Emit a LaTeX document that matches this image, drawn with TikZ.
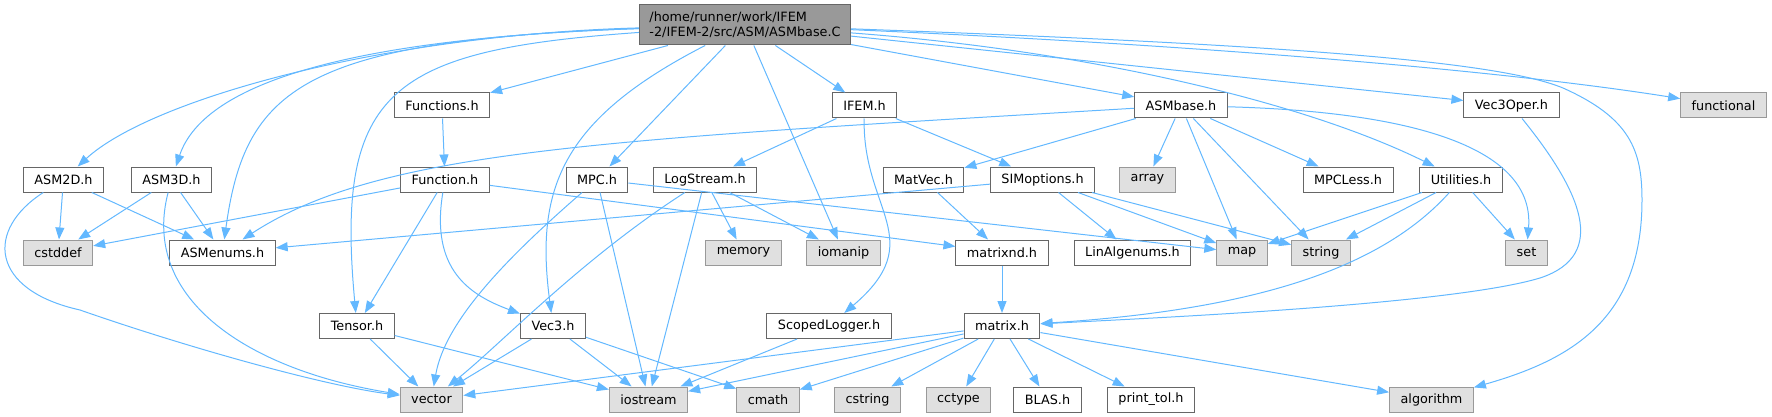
\documentclass[tikz,border=0pt]{standalone}
\usepackage{fontspec}
\setmainfont{DejaVu Sans}
\usetikzlibrary{arrows.meta}
\definecolor{edgeblue}{HTML}{63B8FF}
\definecolor{boxgray}{HTML}{666666}
\definecolor{sysgray}{HTML}{999999}
\definecolor{sysfill}{HTML}{E0E0E0}
\definecolor{mainfill}{HTML}{999999}
\begin{document}
\begin{tikzpicture}[x=1pt,y=-1pt,
  file/.style={draw=boxgray,fill=white,line width=1pt,minimum height=25pt,
    inner xsep=11pt,inner ysep=0pt,font=\fontsize{12.8}{15}\selectfont},
  sysfile/.style={file,draw=sysgray,fill=sysfill},
  edge/.style={draw=edgeblue,line width=1pt,-{Triangle[length=12pt,width=9pt]}}]
\useasboundingbox (0,0) rectangle (1772,417);
% the source file
\node[file,fill=mainfill,minimum height=40pt,inner xsep=10pt,align=left] (main) at (745,25)
  {/home/runner/work/IFEM\\-2/IFEM-2/src/ASM/ASMbase.C};
% rank 1
\node[file] (functions) at (442,105.5) {Functions.h};
\node[file] (ifem) at (864.5,105.5) {IFEM.h};
\node[file] (asmbase) at (1181,105.5) {ASMbase.h};
\node[file] (vecoper) at (1511.5,105.5) {Vec3Oper.h};
\node[sysfile] (functional) at (1723.5,105.5) {functional};
% rank 2
\node[file] (asmtwod) at (63.5,179.5) {ASM2D.h};
\node[file] (asmthreed) at (171.5,179.5) {ASM3D.h};
\node[file] (function) at (445,179.5) {Function.h};
\node[file] (mpc) at (597,179.5) {MPC.h};
\node[file] (logstream) at (705,179.5) {LogStream.h};
\node[file] (matvec) at (923.5,179.5) {MatVec.h};
\node[file] (simoptions) at (1042.5,179.5) {SIMoptions.h};
\node[sysfile] (array) at (1147.5,179.5) {array};
\node[file] (mpcless) at (1348,179.5) {MPCLess.h};
\node[file] (utilities) at (1461,179.5) {Utilities.h};
% rank 3
\node[sysfile] (cstddef) at (58,252.5) {cstddef};
\node[file] (asmenums) at (222.5,252.5) {ASMenums.h};
\node[sysfile] (memory) at (743.5,252.5) {memory};
\node[sysfile] (iomanip) at (843.5,252.5) {iomanip};
\node[file] (matrixnd) at (1002,252.5) {matrixnd.h};
\node[file] (linalgenums) at (1132.5,252.5) {LinAlgenums.h};
\node[sysfile] (map) at (1242,252.5) {map};
\node[sysfile] (string) at (1321,252.5) {string};
\node[sysfile] (set) at (1526.5,252.5) {set};
% rank 4
\node[file] (tensor) at (357,326) {Tensor.h};
\node[file] (vecthree) at (553,326) {Vec3.h};
\node[file] (scopedlogger) at (829,326) {ScopedLogger.h};
\node[file] (matrix) at (1002,326) {matrix.h};
% rank 5
\node[sysfile] (vector) at (431.5,399.5) {vector};
\node[sysfile] (iostream) at (648.5,399.5) {iostream};
\node[sysfile] (cmath) at (768,399.5) {cmath};
\node[sysfile] (cstring) at (867.5,399.5) {cstring};
\node[sysfile] (cctype) at (958.5,399.5) {cctype};
\node[file] (blas) at (1047.5,399.5) {BLAS.h};
\node[file] (printtol) at (1151,399.5) {print\_tol.h};
\node[sysfile] (algorithm) at (1431.5,399.5) {algorithm};

% straight includes
\foreach \a/\b in {main/functions,main/mpc,main/iomanip,main/ifem,main/asmbase,main/vecoper,
  functions/function,function/cstddef,function/tensor,function/matrixnd,
  asmtwod/cstddef,asmtwod/asmenums,asmthreed/cstddef,asmthreed/asmenums,
  mpc/iostream,mpc/map,logstream/iostream,logstream/memory,logstream/iomanip,
  ifem/logstream,ifem/simoptions,matvec/matrixnd,matrixnd/matrix,
  simoptions/asmenums,simoptions/linalgenums,simoptions/map,simoptions/string,
  asmbase/matvec,asmbase/array,asmbase/map,asmbase/string,asmbase/mpcless,
  utilities/map,utilities/string,utilities/set,
  tensor/vector,tensor/iostream,vecthree/vector,vecthree/iostream,vecthree/cmath,
  scopedlogger/iostream,matrix/vector,matrix/iostream,matrix/cmath,matrix/cstring,
  matrix/cctype,matrix/blas,matrix/printtol,matrix/algorithm}
  \draw[edge] (\a) -- (\b);

% curved includes
\draw[edge] (main) .. controls (380,35) and (150,100) .. (asmtwod);
\draw[edge] (main) .. controls (360,38) and (205,80) .. (asmthreed);
\draw[edge] (main) .. controls (300,40) and (245,90) .. (asmenums);
\draw[edge] (main) .. controls (390,50) and (335,90) .. (tensor);
\draw[edge] (main) .. controls (560,120) and (535,190) .. (vecthree);
\draw[edge] (main) .. controls (1080,50) and (1300,100) .. (utilities);
\draw[edge] (main) .. controls (1200,45) and (1500,70) .. (functional);
\draw[edge] (main) .. controls (1300,45) and (1500,62) .. (1563,88)
  .. controls (1630,118) and (1642,150) .. (1642,200)
  .. controls (1642,320) and (1570,360) .. (algorithm);
\draw[edge] (asmbase) .. controls (600,140) and (380,150) .. (asmenums);
\draw[edge] (asmbase) .. controls (1420,112) and (1535,150) .. (set);
\draw[edge] (ifem) .. controls (862,210) and (930,240) .. (scopedlogger);
\draw[edge] (function) .. controls (430,270) and (470,295) .. (vecthree);
\draw[edge] (mpc) .. controls (510,255) and (445,320) .. (vector);
\draw[edge] (logstream) .. controls (580,260) and (500,345) .. (vector);
\draw[edge] (asmtwod) .. controls (-15,230) and (-10,290) .. (80,310)
  .. controls (180,345) and (320,385) .. (vector);
\draw[edge] (asmthreed) .. controls (140,300) and (250,370) .. (vector);
\draw[edge] (utilities) .. controls (1380,270) and (1250,310) .. (matrix);
\draw[edge] (vecoper) .. controls (1580,190) and (1610,255) .. (1540,278)
  .. controls (1450,305) and (1150,318) .. (matrix);
\end{tikzpicture}
\end{document}
